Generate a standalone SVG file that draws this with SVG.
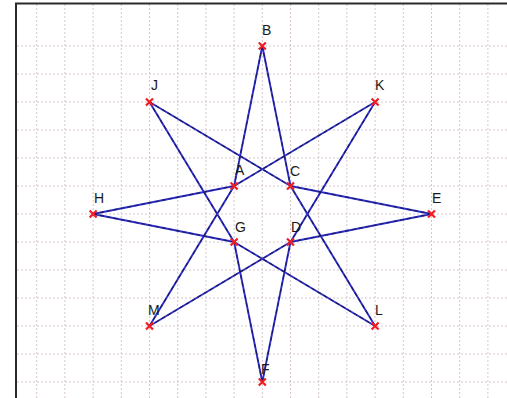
<svg xmlns="http://www.w3.org/2000/svg" width="507" height="398" viewBox="0 0 507 398">
<style>
.grid line{stroke:#d6c6cc;stroke-width:1;stroke-dasharray:2 2}
.edge{stroke:#2f2fd0;stroke-width:1.9;fill:none}
.edge2{stroke:#1a1a5a;stroke-width:1.1;stroke-dasharray:4 3;fill:none}
.mk{stroke:#f01c24;stroke-width:2.2;fill:none}
.lb{font-family:"Liberation Sans",Arial,sans-serif;font-size:14px;fill:#1a1a1a}
</style>
<defs>
<path id="x" class="mk" d="M-3.5,-3.5L3.5,3.5M-3.5,3.5L3.5,-3.5"/>
</defs>
<rect x="0" y="0" width="507" height="398" fill="#ffffff"/>
<g class="grid">
<line x1="36.7" y1="4" x2="36.7" y2="398"/>
<line x1="64.9" y1="4" x2="64.9" y2="398"/>
<line x1="93.1" y1="4" x2="93.1" y2="398"/>
<line x1="121.3" y1="4" x2="121.3" y2="398"/>
<line x1="149.5" y1="4" x2="149.5" y2="398"/>
<line x1="177.7" y1="4" x2="177.7" y2="398"/>
<line x1="205.9" y1="4" x2="205.9" y2="398"/>
<line x1="234.1" y1="4" x2="234.1" y2="398"/>
<line x1="262.3" y1="4" x2="262.3" y2="398"/>
<line x1="290.5" y1="4" x2="290.5" y2="398"/>
<line x1="318.7" y1="4" x2="318.7" y2="398"/>
<line x1="346.9" y1="4" x2="346.9" y2="398"/>
<line x1="375.1" y1="4" x2="375.1" y2="398"/>
<line x1="403.3" y1="4" x2="403.3" y2="398"/>
<line x1="431.5" y1="4" x2="431.5" y2="398"/>
<line x1="459.7" y1="4" x2="459.7" y2="398"/>
<line x1="487.9" y1="4" x2="487.9" y2="398"/>
<line x1="17" y1="46" x2="507" y2="46"/>
<line x1="17" y1="74" x2="507" y2="74"/>
<line x1="17" y1="102" x2="507" y2="102"/>
<line x1="17" y1="130" x2="507" y2="130"/>
<line x1="17" y1="158" x2="507" y2="158"/>
<line x1="17" y1="186" x2="507" y2="186"/>
<line x1="17" y1="214" x2="507" y2="214"/>
<line x1="17" y1="242" x2="507" y2="242"/>
<line x1="17" y1="270" x2="507" y2="270"/>
<line x1="17" y1="298" x2="507" y2="298"/>
<line x1="17" y1="326" x2="507" y2="326"/>
<line x1="17" y1="354" x2="507" y2="354"/>
<line x1="17" y1="382" x2="507" y2="382"/>
</g>
<rect x="16" y="3.5" width="600" height="500" fill="none" stroke="#2a2a2a" stroke-width="2"/>
<g id="connectors">
<path class="edge" d="M262.3,46L234.1,186M375.1,102L234.1,186M93.1,214L234.1,186M149.5,326L234.1,186M262.3,46L290.5,186M149.5,102L290.5,186M431.5,214L290.5,186M375.1,326L290.5,186M431.5,214L290.5,242M375.1,102L290.5,242M262.3,382L290.5,242M149.5,326L290.5,242M93.1,214L234.1,242M149.5,102L234.1,242M262.3,382L234.1,242M375.1,326L234.1,242"/>
<path class="edge2" d="M262.3,46L234.1,186M375.1,102L234.1,186M93.1,214L234.1,186M149.5,326L234.1,186M262.3,46L290.5,186M149.5,102L290.5,186M431.5,214L290.5,186M375.1,326L290.5,186M431.5,214L290.5,242M375.1,102L290.5,242M262.3,382L290.5,242M149.5,326L290.5,242M93.1,214L234.1,242M149.5,102L234.1,242M262.3,382L234.1,242M375.1,326L234.1,242"/>
</g>
<g id="node-B"><use href="#x" x="262.3" y="46"/><text class="lb" x="262" y="35">B</text></g>
<g id="node-J"><use href="#x" x="149.5" y="102"/><text class="lb" x="151" y="90">J</text></g>
<g id="node-K"><use href="#x" x="375.1" y="102"/><text class="lb" x="375" y="90">K</text></g>
<g id="node-A"><use href="#x" x="234.1" y="186"/><text class="lb" x="235" y="175">A</text></g>
<g id="node-C"><use href="#x" x="290.5" y="186"/><text class="lb" x="290" y="176">C</text></g>
<g id="node-H"><use href="#x" x="93.1" y="214"/><text class="lb" x="94" y="203">H</text></g>
<g id="node-E"><use href="#x" x="431.5" y="214"/><text class="lb" x="432" y="203">E</text></g>
<g id="node-G"><use href="#x" x="234.1" y="242"/><text class="lb" x="235" y="232">G</text></g>
<g id="node-D"><use href="#x" x="290.5" y="242"/><text class="lb" x="291" y="232">D</text></g>
<g id="node-M"><use href="#x" x="149.5" y="326"/><text class="lb" x="148" y="315">M</text></g>
<g id="node-L"><use href="#x" x="375.1" y="326"/><text class="lb" x="375" y="315">L</text></g>
<g id="node-F"><use href="#x" x="262.3" y="382"/><text class="lb" x="261" y="374">F</text></g>
</svg>
